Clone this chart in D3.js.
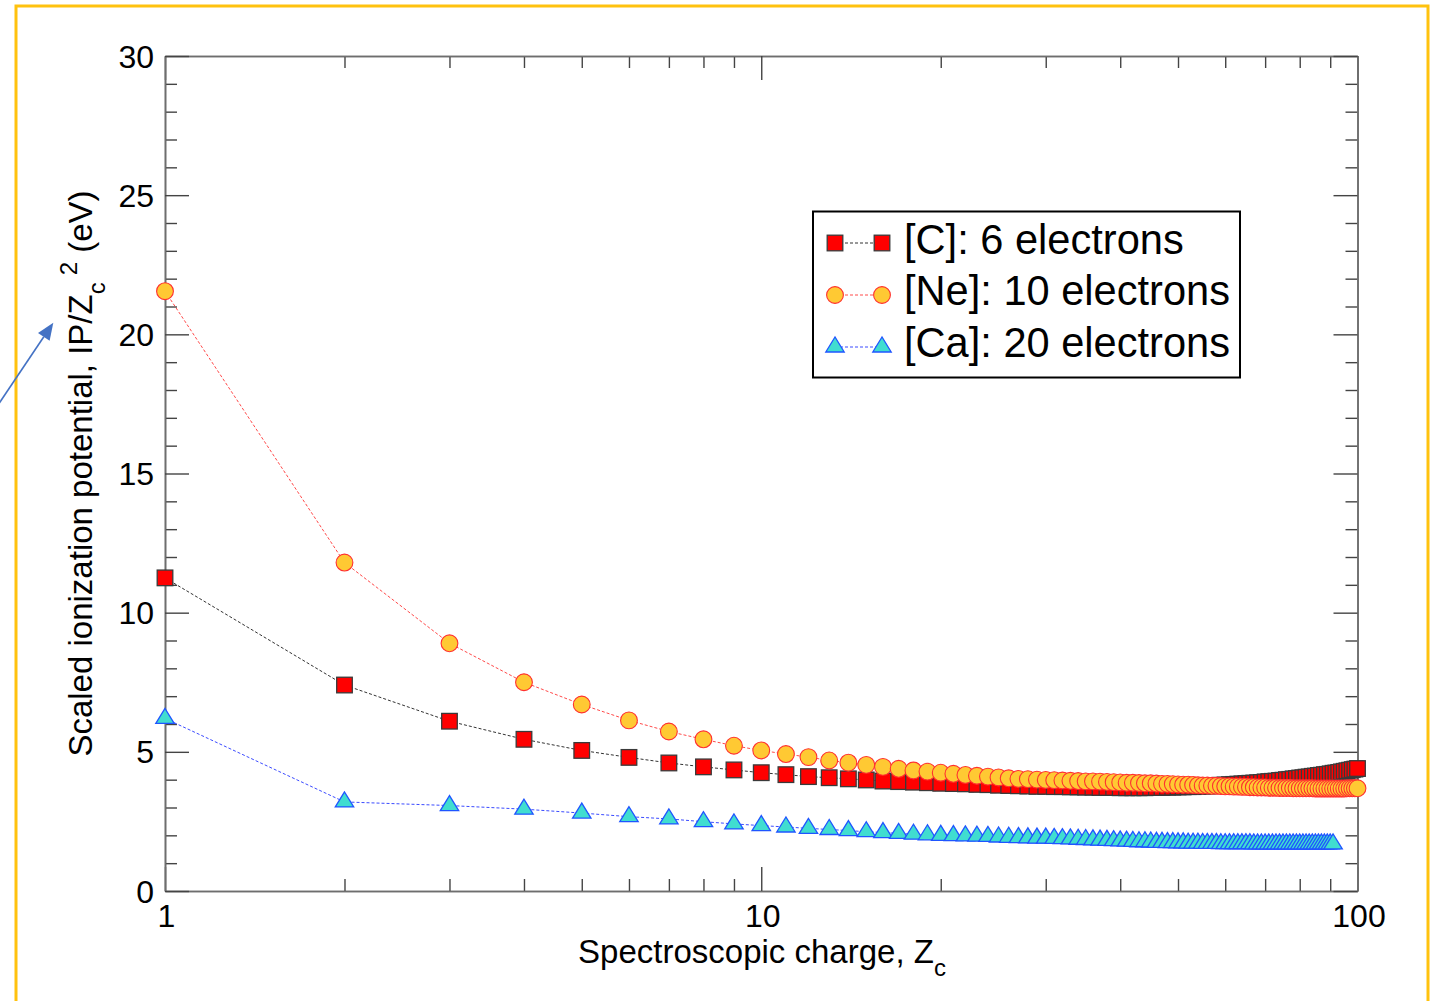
<!DOCTYPE html>
<html><head><meta charset="utf-8">
<script src="https://cdn.jsdelivr.net/npm/d3@7"></script>
<style>
body{margin:0;background:#fff}
svg{display:block}
text{font-family:"Liberation Sans",Arial,Helvetica,sans-serif;fill:#000}
</style>
</head><body>
<svg id="chart" width="1431" height="1001"></svg>
<script>
// ---------------- data ----------------
const yTicks = [0, 5, 10, 15, 20, 25, 30];
const yMinorTicks = [1,2,3,4,6,7,8,9,11,12,13,14,16,17,18,19,21,22,23,24,26,27,28,29];
const xTicks = [1, 10, 100];
const xMinorTicks = [2,3,4,5,6,7,8,9,20,30,40,50,60,70,80,90];
const seriesNames = ["[C]: 6 electrons", "[Ne]: 10 electrons", "[Ca]: 20 electrons"];
const xTitle = "Spectroscopic charge, Z";
const yTitle = "Scaled ionization potential, IP/Z";

// IP / Zc^2 (eV); spectroscopic charge Zc = index + 1
const cValues = [
  11.25, 7.40, 6.10, 5.45, 5.05, 4.80, 4.60, 4.46, 4.35, 4.25,
  4.18, 4.11, 4.07, 4.03, 3.99, 3.95, 3.93, 3.91, 3.89, 3.87,
  3.86, 3.85, 3.83, 3.82, 3.80, 3.79, 3.78, 3.77, 3.76, 3.76,
  3.75, 3.75, 3.74, 3.74, 3.73, 3.73, 3.72, 3.72, 3.72, 3.71,
  3.71, 3.71, 3.71, 3.71, 3.72, 3.72, 3.72, 3.73, 3.73, 3.74,
  3.74, 3.75, 3.75, 3.76, 3.77, 3.77, 3.78, 3.79, 3.80, 3.81,
  3.82, 3.83, 3.84, 3.85, 3.86, 3.87, 3.88, 3.89, 3.90, 3.92,
  3.93, 3.94, 3.95, 3.97, 3.98, 4.00, 4.01, 4.03, 4.04, 4.06,
  4.07, 4.09, 4.10, 4.12, 4.13, 4.15, 4.16, 4.18, 4.19, 4.21,
  4.23, 4.24, 4.26, 4.28, 4.30, 4.32, 4.34, 4.36, 4.38, 4.40
];
const neValues = [
  21.55, 11.80, 8.90, 7.50, 6.70, 6.13, 5.73, 5.45, 5.22, 5.05,
  4.92, 4.81, 4.69, 4.61, 4.53, 4.46, 4.39, 4.33, 4.29, 4.25,
  4.21, 4.17, 4.14, 4.11, 4.08, 4.05, 4.03, 4.02, 4.00, 3.99,
  3.98, 3.97, 3.96, 3.95, 3.94, 3.94, 3.93, 3.92, 3.91, 3.90,
  3.89, 3.89, 3.88, 3.87, 3.87, 3.86, 3.85, 3.85, 3.84, 3.83,
  3.82, 3.82, 3.81, 3.80, 3.79, 3.79, 3.78, 3.78, 3.77, 3.76,
  3.76, 3.75, 3.75, 3.74, 3.74, 3.73, 3.73, 3.72, 3.72, 3.72,
  3.71, 3.71, 3.71, 3.70, 3.70, 3.70, 3.70, 3.69, 3.69, 3.69,
  3.69, 3.69, 3.69, 3.69, 3.68, 3.68, 3.68, 3.68, 3.68, 3.68,
  3.68, 3.68, 3.68, 3.68, 3.68, 3.69, 3.69, 3.69, 3.69, 3.69
];
const caValues = [
  6.20, 3.20, 3.07, 2.94, 2.80, 2.67, 2.59, 2.49, 2.41, 2.35,
  2.30, 2.25, 2.21, 2.17, 2.13, 2.10, 2.07, 2.04, 2.02, 2.00,
  1.99, 1.98, 1.97, 1.96, 1.94, 1.93, 1.92, 1.91, 1.90, 1.90,
  1.89, 1.88, 1.87, 1.86, 1.85, 1.84, 1.83, 1.82, 1.81, 1.80,
  1.79, 1.78, 1.77, 1.77, 1.76, 1.75, 1.75, 1.74, 1.74, 1.73,
  1.73, 1.72, 1.72, 1.72, 1.71, 1.71, 1.71, 1.71, 1.70, 1.70,
  1.70, 1.70, 1.70, 1.70, 1.70, 1.70, 1.69, 1.69, 1.69, 1.69,
  1.69, 1.69, 1.69, 1.69, 1.69, 1.69, 1.69, 1.69, 1.69, 1.69,
  1.69, 1.69, 1.69, 1.69, 1.69, 1.69, 1.69, 1.69, 1.69, 1.69,
  1.69
];

// ---------------- drawing ----------------
const svg = d3.select("#chart");
const pLeft = 165, pRight = 1357.5, pTop = 56, pBottom = 891;
const x = d3.scaleLog().domain([1, 100]).range([pLeft, pRight]);
const y = d3.scaleLinear().domain([0, 30]).range([pBottom, pTop]);

// outer golden frame
svg.append("rect").attr("x", 16).attr("y", 6).attr("width", 1412).attr("height", 1020)
  .attr("fill", "none").attr("stroke", "#FFC20E").attr("stroke-width", 3);

// arrow at left
(function(){
  const tip = [53.3, 322.7], start = [-2, 405];
  const dx = tip[0]-start[0], dy = tip[1]-start[1], L = Math.hypot(dx, dy);
  const u = [dx/L, dy/L], p = [-u[1], u[0]];
  const hl = 17, hw = 7;
  const base = [tip[0]-hl*u[0], tip[1]-hl*u[1]];
  svg.append("line").attr("x1", start[0]).attr("y1", start[1]).attr("x2", base[0]).attr("y2", base[1])
    .attr("stroke", "#4472C4").attr("stroke-width", 1.6);
  svg.append("path").attr("d", `M${tip}L${base[0]+hw*p[0]},${base[1]+hw*p[1]}L${base[0]-hw*p[0]},${base[1]-hw*p[1]}Z`)
    .attr("fill", "#4472C4");
})();

// axes (ticks pointing inward)
function styleAxis(g){
  g.select(".domain").attr("stroke", "#6e6e6e").attr("stroke-width", 1.6);
  g.selectAll(".tick line").attr("stroke", "#444").attr("stroke-width", 1.4);
  g.selectAll(".tick text").remove();
}
const mk = (axisFn, scale, vals, size) => axisFn(scale).tickValues(vals).tickSizeInner(-size).tickSizeOuter(0).tickFormat("");
svg.append("g").attr("transform", `translate(0,${pBottom})`).call(mk(d3.axisBottom, x, xMinorTicks, 12)).call(styleAxis);
svg.append("g").attr("transform", `translate(0,${pBottom})`).call(mk(d3.axisBottom, x, xTicks, 24)).call(styleAxis);
svg.append("g").attr("transform", `translate(0,${pTop})`).call(mk(d3.axisTop, x, xMinorTicks, 12)).call(styleAxis);
svg.append("g").attr("transform", `translate(0,${pTop})`).call(mk(d3.axisTop, x, xTicks, 24)).call(styleAxis);
svg.append("g").attr("transform", `translate(${pLeft},0)`).call(mk(d3.axisLeft, y, yMinorTicks, 12)).call(styleAxis);
svg.append("g").attr("transform", `translate(${pLeft},0)`).call(mk(d3.axisLeft, y, yTicks, 24)).call(styleAxis);
svg.append("g").attr("transform", `translate(${pRight},0)`).call(mk(d3.axisRight, y, yMinorTicks, 12)).call(styleAxis);
svg.append("g").attr("transform", `translate(${pRight},0)`).call(mk(d3.axisRight, y, yTicks, 24)).call(styleAxis);

// tick labels
svg.append("g").selectAll("text").data(yTicks).join("text")
  .attr("x", 154).attr("y", d => y(d) + 11.5).attr("text-anchor", "end")
  .attr("font-size", 32).text(d => d);
svg.append("g").selectAll("text").data(xTicks).join("text")
  .attr("x", d => x(d) + 1.5).attr("y", 927).attr("text-anchor", "middle")
  .attr("font-size", 32).text(d => d);

// axis titles
const xt = svg.append("text").attr("x", 762).attr("y", 963).attr("text-anchor", "middle").attr("font-size", 33);
xt.append("tspan").text(xTitle);
xt.append("tspan").attr("font-size", 24).attr("dy", 13).text("c");

const yt = svg.append("text").attr("transform", `translate(92,${(pTop+pBottom)/2}) rotate(-90)`)
  .attr("text-anchor", "middle").attr("font-size", 33);
yt.append("tspan").text(yTitle);
yt.append("tspan").attr("font-size", 24).attr("dy", 13).text("c");
yt.append("tspan").attr("font-size", 24).attr("dy", -28).attr("dx", 7).text("2");
yt.append("tspan").attr("dy", 15).text("\u00a0(eV)");

// series
const toPts = vals => vals.map((v, i) => ({z: i + 1, v}));
const series = [
  {name: seriesNames[0], pts: toPts(cValues), line: "#333", shape: "square", fill: "#FF0000", stroke: "#3a3a3a"},
  {name: seriesNames[1], pts: toPts(neValues), line: "#FF4A4A", shape: "circle", fill: "#FFC933", stroke: "#FF3030"},
  {name: seriesNames[2], pts: toPts(caValues), line: "#3B4BFF", shape: "triangle", fill: "#40DDD0", stroke: "#1F55FF"}
];
const lineGen = d3.line().x(d => x(d.z)).y(d => y(d.v));

function drawMarker(g, shape, cx, cy, fill, stroke){
  if (shape === "square") {
    g.append("rect").attr("x", cx - 7.8).attr("y", cy - 7.8).attr("width", 15.6).attr("height", 15.6)
      .attr("fill", fill).attr("stroke", stroke).attr("stroke-width", 1.3);
  } else if (shape === "circle") {
    g.append("circle").attr("cx", cx).attr("cy", cy).attr("r", 8.4)
      .attr("fill", fill).attr("stroke", stroke).attr("stroke-width", 1.1);
  } else {
    g.append("path").attr("d", `M${cx},${cy-10}L${cx-9.2},${cy+5}L${cx+9.2},${cy+5}Z`)
      .attr("fill", fill).attr("stroke", stroke).attr("stroke-width", 1.3).attr("stroke-linejoin", "miter");
  }
}

series.forEach(s => {
  const g = svg.append("g");
  g.append("path").attr("d", lineGen(s.pts)).attr("fill", "none").attr("stroke", s.line)
    .attr("stroke-width", 1).attr("stroke-dasharray", "3,2");
  s.pts.forEach(d => drawMarker(g, s.shape, x(d.z), y(d.v), s.fill, s.stroke));
});

// legend
const lg = svg.append("g");
lg.append("rect").attr("x", 813).attr("y", 211.5).attr("width", 427).attr("height", 166)
  .attr("fill", "#fff").attr("stroke", "#000").attr("stroke-width", 2);
const rowY = [243, 295, 347];
const textY = [254, 305, 357];
series.forEach((s, i) => {
  lg.append("line").attr("x1", 835).attr("x2", 882).attr("y1", rowY[i]).attr("y2", rowY[i])
    .attr("stroke", s.line).attr("stroke-width", 1).attr("stroke-dasharray", "3,2");
  drawMarker(lg, s.shape, 835, rowY[i], s.fill, s.stroke);
  drawMarker(lg, s.shape, 882, rowY[i], s.fill, s.stroke);
  lg.append("text").attr("x", 904).attr("y", textY[i]).attr("font-size", 41.6).text(s.name);
});
</script>
</body></html>
